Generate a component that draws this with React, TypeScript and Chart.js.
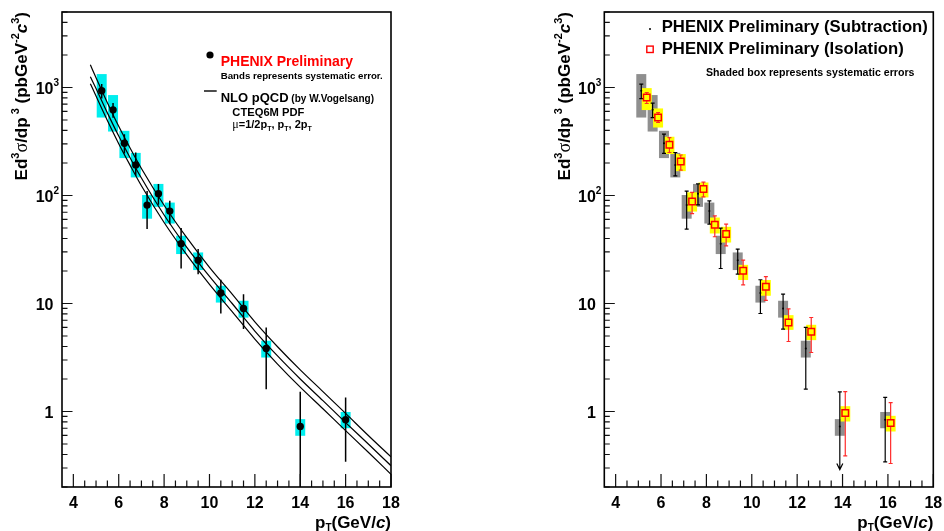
import React, { useEffect, useRef } from "react";
import { Chart, registerables } from "chart.js";

Chart.register(...registerables);

// ---- axis ranges and ticks ----
const X_MIN = 3.5;
const X_MAX = 18;
const Y_MIN = 0.2;
const Y_MAX = 5000;

const xMajorTicks = [4, 6, 8, 10, 12, 14, 16, 18];
const xTickLabels = ["4", "6", "8", "10", "12", "14", "16", "18"];
const X_MINOR_STEP = 0.5;
const yMajorTicks = [1, 10, 100, 1000];
const yTickBase = ["1", "10", "10", "10"];
const yTickExp = ["", "", "2", "3"];

// ---- direct photon spectrum, pT bin centres (GeV/c) ----
const ptBins = [5.25, 5.75, 6.25, 6.75, 7.25, 7.75, 8.25, 8.75, 9.5, 10.5, 11.5, 12.5, 14, 16];

// subtraction method (pb GeV^-2 c^3)
const subYield = [932, 621, 305, 192, 81.5, 104, 71.7, 35.8, 25.2, 12.5, 9.0, 3.83, 0.726, 0.838];
const subSysLo = [527, 391, 222, 147, 61, 78.5, 55, 28.7, 20.4, 10.2, 7.4, 3.16, 0.596, 0.7];
const subSysHi = [1331, 851, 397, 248, 101, 128, 86, 42.4, 29.7, 14.6, 10.6, 4.52, 0.85, 0.99];
const subStatLo = [789, 525, 245, 152, 48.9, 82, 54.3, 21.1, 18.7, 8.08, 5.8, 1.61, 0.01, 0.342];
const subStatHi = [1075, 717, 370, 250, 110, 128, 89.3, 49.9, 31.9, 16.6, 12.2, 6.0, 1.52, 1.35];
const subIsUpperLimit = [false, false, false, false, false, false, false, false, false, false, false, false, true, false];
const UPPER_LIMIT_TIP = 0.29;

// isolation method (pb GeV^-2 c^3)
const isoYield = [808, 527, 295, 206, 88, 115, 53.5, 44, 20.1, 14.3, 6.67, 5.47, 0.967, 0.781];
const isoSysLo = [618, 426, 242, 168, 71, 96, 44.5, 36.7, 16.5, 11.8, 5.7, 4.58, 0.808, 0.653];
const isoSysHi = [987, 640, 350, 242, 107, 132, 62.5, 51.3, 22.8, 16.5, 7.8, 6.35, 1.12, 0.912];
const isoStatLo = [711, 474, 250, 172, 68, 97, 41.5, 34.2, 14.9, 10.7, 4.45, 3.52, 0.389, 0.33];
const isoStatHi = [899, 587, 344, 237, 107, 133, 64.9, 54.3, 25.2, 17.7, 8.9, 7.42, 1.53, 1.21];

// NLO pQCD (W. Vogelsang), CTEQ6M, three scale choices
const nloPt = [4.75, 5, 5.5, 6, 6.5, 7, 8, 9, 10, 11, 12, 13, 14, 15, 16, 17, 18];
const nloMuHalf = [1622, 1230, 724, 437, 275, 178, 81.3, 40.7, 21.6, 12.2, 6.76, 3.98, 2.43, 1.53, 0.96, 0.6, 0.38];
const nloMuOne = [1259, 977, 582, 355, 224, 145, 66, 33.1, 17.8, 10.0, 5.56, 3.27, 2.0, 1.26, 0.79, 0.5, 0.315];
const nloMuTwo = [1084, 832, 495, 302, 191, 123, 56.2, 28.2, 15.0, 8.41, 4.68, 2.75, 1.68, 1.06, 0.665, 0.42, 0.262];

const BOX_HALF_WIDTH = 0.22;
const SUB_SHIFT = -0.12;
const ISO_SHIFT = 0.12;

const CANVAS_W = 472;
const CANVAS_H = 531;

const FONT = '"Liberation Sans", Arial, Helvetica, sans-serif';
const bold = (px: number) => `bold ${px}px ${FONT}`;
const boldItalic = (px: number) => `italic bold ${px}px ${FONT}`;
const greek = (px: number) => `${px}px "Liberation Serif", "DejaVu Serif", serif`;

type Seg = { t: string; f: string; dy?: number; color?: string };

function segsWidth(ctx: CanvasRenderingContext2D, segs: Seg[]) {
  let w = 0;
  for (const s of segs) {
    ctx.font = s.f;
    w += ctx.measureText(s.t).width;
  }
  return w;
}

function drawSegs(ctx: CanvasRenderingContext2D, segs: Seg[], x: number, y: number, align: "left" | "right", color = "#000") {
  let cx = align === "right" ? x - segsWidth(ctx, segs) : x;
  ctx.textAlign = "left";
  ctx.textBaseline = "alphabetic";
  for (const s of segs) {
    ctx.font = s.f;
    ctx.fillStyle = s.color || color;
    ctx.fillText(s.t, cx, y + (s.dy || 0));
    cx += ctx.measureText(s.t).width;
  }
}

const yTitleSegs: Seg[] = [
  { t: "Ed", f: bold(17) },
  { t: "3", f: bold(11), dy: -8 },
  { t: "σ", f: greek(18) },
  { t: "/dp", f: bold(17) },
  { t: " 3", f: bold(11), dy: -8 },
  { t: " (pbGeV", f: bold(17) },
  { t: "-2", f: bold(11), dy: -8 },
  { t: "c", f: boldItalic(17) },
  { t: "3", f: bold(11), dy: -8 },
  { t: ")", f: bold(17) },
];

const xTitleSegs: Seg[] = [
  { t: "p", f: bold(17) },
  { t: "T", f: bold(10), dy: 3 },
  { t: "(GeV/", f: bold(17) },
  { t: "c", f: boldItalic(17) },
  { t: ")", f: bold(17) },
];

function drawFrameAndAxes(chart: Chart) {
  const ctx = chart.ctx;
  const a = chart.chartArea;
  const xs = chart.scales.x;
  const ys = chart.scales.y;
  ctx.save();
  ctx.strokeStyle = "#111";
  ctx.lineWidth = 1.2;
  ctx.beginPath();
  for (let k = 0; ; k++) {
    const v = xMajorTicks[0] + k * X_MINOR_STEP;
    if (v > X_MAX + 1e-6) break;
    const px = xs.getPixelForValue(v);
    const len = xMajorTicks.includes(v) ? 13 : 6.5;
    ctx.moveTo(px, a.bottom);
    ctx.lineTo(px, a.bottom - len);
  }
  for (let e = -1; e <= 3; e++) {
    const d = Math.pow(10, e);
    for (let m = 1; m <= 9; m++) {
      const v = m * d;
      if (v < Y_MIN * 0.999 || v > Y_MAX * 1.001) continue;
      const py = ys.getPixelForValue(v);
      const len = m === 1 ? 10.5 : 5.5;
      ctx.moveTo(a.left, py);
      ctx.lineTo(a.left + len, py);
    }
  }
  ctx.stroke();

  ctx.strokeStyle = "#000";
  ctx.lineWidth = 1.6;
  ctx.strokeRect(a.left, a.top, a.right - a.left, a.bottom - a.top);

  ctx.fillStyle = "#000";
  ctx.textBaseline = "alphabetic";
  ctx.font = bold(16);
  ctx.textAlign = "center";
  xMajorTicks.forEach((v, i) => ctx.fillText(xTickLabels[i], xs.getPixelForValue(v), 508));
  yMajorTicks.forEach((v, i) => {
    const py = ys.getPixelForValue(v);
    ctx.font = bold(16);
    ctx.textAlign = "right";
    ctx.fillText(yTickBase[i], a.left - 8.5, py + 6.5);
    if (yTickExp[i]) {
      ctx.font = bold(10);
      ctx.textAlign = "left";
      ctx.fillText(yTickExp[i], a.left - 8.5, py - 1);
    }
  });

  // axis titles
  drawSegs(ctx, xTitleSegs, a.right, 528, "right");
  ctx.save();
  ctx.translate(a.left - 34.7, a.top);
  ctx.rotate(-Math.PI / 2);
  drawSegs(ctx, yTitleSegs, 0, 0, "right");
  ctx.restore();
  ctx.restore();
}

function clipToArea(chart: Chart) {
  const a = chart.chartArea;
  chart.ctx.beginPath();
  chart.ctx.rect(a.left, a.top, a.right - a.left, a.bottom - a.top);
  chart.ctx.clip();
}

function fillBoxes(chart: Chart, xc: number[], lo: number[], hi: number[], color: string) {
  const ctx = chart.ctx;
  const xs = chart.scales.x;
  const ys = chart.scales.y;
  ctx.fillStyle = color;
  xc.forEach((x, i) => {
    const x0 = xs.getPixelForValue(x - BOX_HALF_WIDTH);
    const x1 = xs.getPixelForValue(x + BOX_HALF_WIDTH);
    const y0 = ys.getPixelForValue(hi[i]);
    const y1 = ys.getPixelForValue(lo[i]);
    ctx.fillRect(x0, y0, x1 - x0, y1 - y0);
  });
}

// ---------- left panel ----------
const leftPlugin = {
  id: "phenixLeft",
  beforeDatasetsDraw(chart: Chart) {
    const ctx = chart.ctx;
    ctx.save();
    clipToArea(chart);
    fillBoxes(chart, ptBins, subSysLo, subSysHi, "#00eeee");
    ctx.restore();
  },
  beforeDatasetDraw(chart: Chart, args: any) {
    if (args.index !== 0) return;
    const ctx = chart.ctx;
    const xs = chart.scales.x;
    const ys = chart.scales.y;
    ctx.save();
    clipToArea(chart);
    ctx.strokeStyle = "#000";
    ctx.lineWidth = 1.5;
    ctx.beginPath();
    ptBins.forEach((x, i) => {
      const px = xs.getPixelForValue(x);
      ctx.moveTo(px, ys.getPixelForValue(subStatHi[i]));
      ctx.lineTo(px, ys.getPixelForValue(subStatLo[i]));
    });
    ctx.stroke();
    ctx.restore();
  },
  afterDraw(chart: Chart) {
    drawFrameAndAxes(chart);
    const ctx = chart.ctx;
    ctx.save();
    // legend
    ctx.fillStyle = "#000";
    ctx.beginPath();
    ctx.arc(210, 55, 3.6, 0, Math.PI * 2);
    ctx.fill();
    drawSegs(ctx, [{ t: "PHENIX Preliminary", f: bold(14) }], 220.7, 65.7, "left", "#ff0000");
    drawSegs(ctx, [{ t: "Bands represents systematic error.", f: bold(9.7) }], 220.7, 79.3, "left");
    ctx.strokeStyle = "#000";
    ctx.lineWidth = 1.4;
    ctx.beginPath();
    ctx.moveTo(204, 91);
    ctx.lineTo(216.7, 91);
    ctx.stroke();
    drawSegs(ctx, [{ t: "NLO pQCD", f: bold(13) }, { t: " (by W.Vogelsang)", f: bold(10) }], 220.7, 102, "left");
    drawSegs(ctx, [{ t: "CTEQ6M PDF", f: bold(11.2) }], 232.3, 115.7, "left");
    drawSegs(
      ctx,
      [
        { t: "μ", f: greek(12) },
        { t: "=1/2p", f: bold(11) },
        { t: "T", f: bold(7), dy: 2.5 },
        { t: ", p", f: bold(11) },
        { t: "T", f: bold(7), dy: 2.5 },
        { t: ", 2p", f: bold(11) },
        { t: "T", f: bold(7), dy: 2.5 },
      ],
      232.3,
      128.3,
      "left"
    );
    ctx.restore();
  },
};

// ---------- right panel ----------
function strokeBar(ctx: CanvasRenderingContext2D, px: number, yTop: number, yBot: number, cap: number, skipA?: number, skipB?: number) {
  if (skipA !== undefined && skipB !== undefined) {
    ctx.moveTo(px, yTop);
    ctx.lineTo(px, skipA);
    ctx.moveTo(px, skipB);
    ctx.lineTo(px, yBot);
  } else {
    ctx.moveTo(px, yTop);
    ctx.lineTo(px, yBot);
  }
  ctx.moveTo(px - cap, yTop);
  ctx.lineTo(px + cap, yTop);
  ctx.moveTo(px - cap, yBot);
  ctx.lineTo(px + cap, yBot);
}

const rightPlugin = {
  id: "phenixRight",
  beforeDatasetsDraw(chart: Chart) {
    const ctx = chart.ctx;
    const xs = chart.scales.x;
    const ys = chart.scales.y;
    const subX = ptBins.map((x) => x + SUB_SHIFT);
    const isoX = ptBins.map((x) => x + ISO_SHIFT);
    ctx.save();
    clipToArea(chart);
    fillBoxes(chart, subX, subSysLo, subSysHi, "#8f8f8f");
    fillBoxes(chart, isoX, isoSysLo, isoSysHi, "#ffff00");

    // subtraction statistical errors
    ctx.strokeStyle = "#000";
    ctx.lineWidth = 1.2;
    ctx.beginPath();
    subX.forEach((x, i) => {
      const px = xs.getPixelForValue(x);
      const yTop = ys.getPixelForValue(subStatHi[i]);
      if (subIsUpperLimit[i]) {
        const tip = ys.getPixelForValue(UPPER_LIMIT_TIP);
        ctx.moveTo(px - 2, yTop);
        ctx.lineTo(px + 2, yTop);
        ctx.moveTo(px, yTop);
        ctx.lineTo(px, tip);
        ctx.moveTo(px - 3, tip - 6);
        ctx.lineTo(px, tip);
        ctx.lineTo(px + 3, tip - 6);
      } else {
        strokeBar(ctx, px, yTop, ys.getPixelForValue(subStatLo[i]), 2);
      }
    });
    ctx.stroke();

    // isolation statistical errors
    ctx.strokeStyle = "#ff2a2a";
    ctx.lineWidth = 1.2;
    ctx.beginPath();
    isoX.forEach((x, i) => {
      const px = xs.getPixelForValue(x);
      const py = ys.getPixelForValue(isoYield[i]);
      strokeBar(ctx, px, ys.getPixelForValue(isoStatHi[i]), ys.getPixelForValue(isoStatLo[i]), 2, py - 3.3, py + 3.3);
    });
    ctx.stroke();
    ctx.restore();
  },
  afterDraw(chart: Chart) {
    drawFrameAndAxes(chart);
    const ctx = chart.ctx;
    ctx.save();
    ctx.fillStyle = "#000";
    ctx.beginPath();
    ctx.arc(178, 29, 1, 0, Math.PI * 2);
    ctx.fill();
    ctx.strokeStyle = "#ff0000";
    ctx.lineWidth = 1.4;
    ctx.strokeRect(174.8, 46.1, 6.4, 6.4);
    drawSegs(ctx, [{ t: "PHENIX Preliminary (Subtraction)", f: bold(16.7) }], 189.7, 31.7, "left");
    drawSegs(ctx, [{ t: "PHENIX Preliminary (Isolation)", f: bold(16.7) }], 189.7, 54.3, "left");
    drawSegs(ctx, [{ t: "Shaded box represents systematic errors", f: bold(10.6) }], 234, 75.7, "left");
    ctx.restore();
  },
};

const baseScales = {
  x: { type: "linear" as const, min: X_MIN, max: X_MAX, display: false },
  y: { type: "logarithmic" as const, min: Y_MIN, max: Y_MAX, display: false },
};

const curveDataset = (values: number[]) => ({
  data: nloPt.map((x, i) => ({ x, y: values[i] })),
  showLine: true,
  borderColor: "#000",
  borderWidth: 1.2,
  pointRadius: 0,
  cubicInterpolationMode: "monotone" as const,
  fill: false,
});

export default function App() {
  const leftRef = useRef<HTMLCanvasElement | null>(null);
  const rightRef = useRef<HTMLCanvasElement | null>(null);

  useEffect(() => {
    if (!leftRef.current || !rightRef.current) return;
    const common = {
      animation: false as const,
      responsive: false,
      events: [] as any[],
      plugins: { legend: { display: false }, tooltip: { enabled: false } },
      scales: baseScales,
    };

    const left = new Chart(leftRef.current, {
      type: "scatter",
      data: {
        datasets: [
          {
            data: ptBins.map((x, i) => ({ x, y: subYield[i] })),
            pointRadius: 3.7,
            pointBackgroundColor: "#000",
            pointBorderWidth: 0,
            showLine: false,
          },
          curveDataset(nloMuHalf),
          curveDataset(nloMuOne),
          curveDataset(nloMuTwo),
        ] as any,
      },
      options: { ...common, layout: { padding: { left: 62, right: CANVAS_W - 391, top: 12, bottom: CANVAS_H - 487 } } } as any,
      plugins: [leftPlugin as any],
    });

    const right = new Chart(rightRef.current, {
      type: "scatter",
      data: {
        datasets: [
          {
            data: ptBins.map((x, i) => ({ x: x + ISO_SHIFT, y: isoYield[i] })),
            pointStyle: "rect",
            pointRadius: 4.6,
            pointBackgroundColor: "rgba(0,0,0,0)",
            pointBorderColor: "#ff0000",
            pointBorderWidth: 1.5,
            showLine: false,
          },
          {
            data: ptBins.map((x, i) => ({ x: x + SUB_SHIFT, y: subYield[i] })),
            pointRadius: 1,
            pointBackgroundColor: "#000",
            pointBorderWidth: 0,
            showLine: false,
          },
        ] as any,
      },
      options: { ...common, layout: { padding: { left: 132.3, right: 10.7, top: 12, bottom: CANVAS_H - 487 } } } as any,
      plugins: [rightPlugin as any],
    });

    return () => {
      left.destroy();
      right.destroy();
    };
  }, []);

  return (
    <div style={{ position: "absolute", left: 0, top: 0, width: 944, height: 531, background: "#fff", overflow: "hidden" }}>
      <canvas ref={leftRef} width={CANVAS_W} height={CANVAS_H} style={{ position: "absolute", left: 0, top: 0, width: CANVAS_W, height: CANVAS_H }} />
      <canvas ref={rightRef} width={CANVAS_W} height={CANVAS_H} style={{ position: "absolute", left: CANVAS_W, top: 0, width: CANVAS_W, height: CANVAS_H }} />
    </div>
  );
}
